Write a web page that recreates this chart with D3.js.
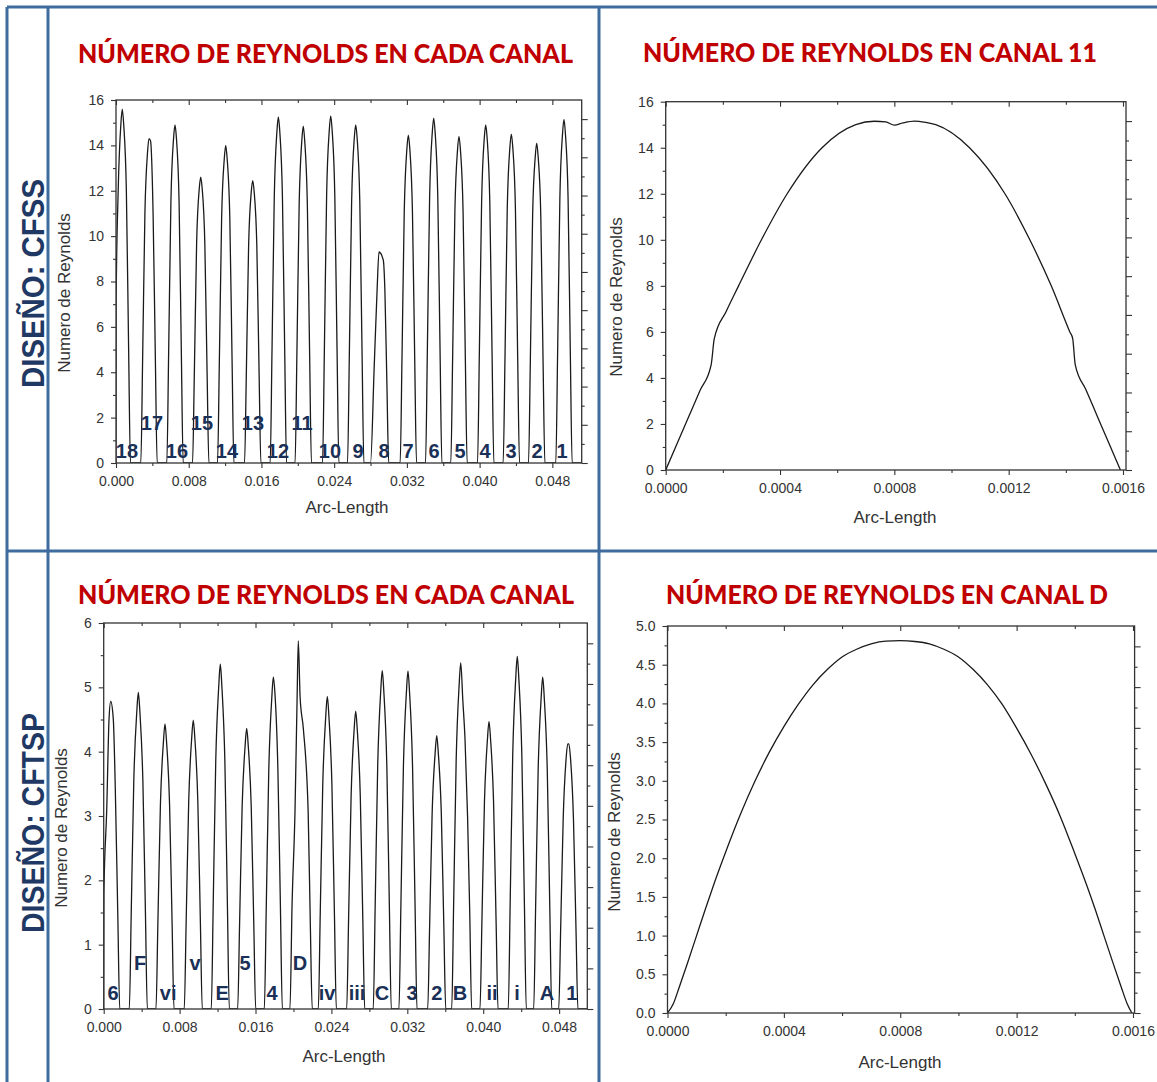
<!DOCTYPE html>
<html>
<head>
<meta charset="utf-8">
<style>
  body{
    margin: 0;
    background: #fff;
  }
  svg { display: block; }
</style>
</head>
<body>
<svg id='svgVis'></svg>

<script src="https://cdnjs.cloudflare.com/ajax/libs/d3/7.8.5/d3.min.js"></script>
<script>

// ---- data ----

// CFSS: Reynolds number along the arc crossing the 18 channels
var cfssProfile = [
  [0,0],[0.00001,7.0],[0.00024,12.0],[0.00053,14.9],[0.00069,15.6],[0.00085,14.9],[0.00114,12.0],[0.00139,5.0],[0.00159,0],
  [0.00273,0],[0.00293,4.6],[0.00318,11.0],[0.00347,13.7],[0.00363,14.3],[0.0038,14.2],[0.00408,11.0],[0.00433,4.6],[0.00453,0],
  [0.00559,0],[0.00579,4.8],[0.00604,11.5],[0.00633,14.3],[0.00649,14.9],[0.00665,14.3],[0.00694,11.5],[0.00719,4.8],[0.00739,0],
  [0.00842,0],[0.00862,4.0],[0.00887,9.7],[0.00916,12.1],[0.00932,12.6],[0.00948,12.1],[0.00977,9.7],[0.01002,4.0],[0.01022,0],
  [0.01117,0],[0.01137,4.5],[0.01162,10.8],[0.01191,13.4],[0.01207,14.0],[0.01223,13.4],[0.01252,10.8],[0.01277,4.5],[0.01297,0],
  [0.01414,0],[0.01434,4.0],[0.01459,9.6],[0.01488,11.95],[0.01504,12.45],[0.0152,11.95],[0.01549,9.6],[0.01574,4.0],[0.01594,0],
  [0.01696,0],[0.01716,4.9],[0.01741,11.7],[0.0177,14.6],[0.01786,15.25],[0.01802,14.6],[0.01831,11.7],[0.01856,4.9],[0.01876,0],
  [0.0197,0],[0.0199,4.8],[0.02015,11.4],[0.02044,14.2],[0.0206,14.85],[0.02076,14.2],[0.02105,11.4],[0.0213,4.8],[0.0215,0],
  [0.02272,0],[0.02292,4.9],[0.02317,11.8],[0.02346,14.65],[0.02362,15.3],[0.02378,14.65],[0.02407,11.8],[0.02432,4.9],[0.02452,0],
  [0.02547,0],[0.02567,4.8],[0.02592,11.5],[0.02621,14.3],[0.02637,14.9],[0.02653,14.3],[0.02682,11.5],[0.02707,4.8],[0.02727,0],
  [0.0280,0],[0.0284,4.2],[0.02872,7.6],[0.02893,9.3],[0.0294,8.95],[0.02958,7.6],[0.0298,3.5],[0.0300,0],
  [0.03126,0],[0.03146,4.6],[0.03171,11.1],[0.032,13.85],[0.03216,14.45],[0.03232,13.85],[0.03261,11.1],[0.03286,4.6],[0.03306,0],
  [0.03405,0],[0.03425,4.9],[0.0345,11.7],[0.03479,14.55],[0.03495,15.2],[0.03511,14.55],[0.0354,11.7],[0.03565,4.9],[0.03585,0],
  [0.03683,0],[0.03703,4.6],[0.03728,11.1],[0.03757,13.8],[0.03773,14.4],[0.03789,13.8],[0.03818,11.1],[0.03843,4.6],[0.03863,0],
  [0.03977,0],[0.03997,4.8],[0.04022,11.5],[0.04051,14.3],[0.04067,14.9],[0.04083,14.3],[0.04112,11.5],[0.04137,4.8],[0.04157,0],
  [0.04259,0],[0.04279,4.6],[0.04304,11.2],[0.04333,13.9],[0.04349,14.5],[0.04365,13.9],[0.04394,11.2],[0.04419,4.6],[0.04439,0],
  [0.04538,0],[0.04558,4.5],[0.04583,10.9],[0.04612,13.5],[0.04628,14.1],[0.04644,13.5],[0.04673,10.9],[0.04698,4.5],[0.04718,0],
  [0.04838,0],[0.04858,4.8],[0.04883,11.7],[0.04912,14.5],[0.04928,15.15],[0.04944,14.5],[0.04973,11.7],[0.04998,4.8],[0.05018,0],
  [0.0512,0]
];
var cfssLabels = ['18','17','16','15','14','13','12','11','10','9','8','7','6','5','4','3','2','1'];
var cfssLabelX = [0.00121,0.00396,0.00671,0.00946,0.01221,0.01507,0.01782,0.02046,0.02354,0.02662,0.02948,0.03212,0.03498,0.03784,0.04059,0.04345,0.04631,0.04906];
var cfssLabelY = [0.22,1.45,0.22,1.45,0.22,1.45,0.22,1.45,0.22,0.22,0.22,0.22,0.22,0.22,0.22,0.22,0.22,0.22];

// CFSS canal 11
var canal11Profile = [
  [0,0],[0.00004,1.15],[0.00008,2.3],[0.00012,3.45],[0.000159,4.57],[0.00017,5.71],[0.000212,6.9],[0.000255,8],
  [0.000335,10],[0.000425,12],[0.000547,14],[0.000665,15],[0.00073,15.15],[0.00077,15.12],[0.0008,14.98],
  [0.00083,15.08],[0.00087,15.16],[0.00091,15.1],[0.000945,15],[0.001063,14],[0.001187,12],[0.001274,10],
  [0.001349,8],[0.001414,6],[0.001424,5.71],[0.001433,4.57],[0.00147,3.5],[0.00151,2.34],[0.00155,1.18],[0.001591,0]
];

// CFTSP: Reynolds number along the arc
var cftspProfile = [
  [0,0],[0.00002,1.8],[0.00032,3.1],[0.00056,4.5],[0.00074,4.78],[0.00101,4.51],[0.00122,3.44],[0.00149,1.43],[0.00169,0],
  [0.0027,0],[0.0029,1.48],[0.00317,3.54],[0.00348,4.6],[0.00365,4.92],[0.00382,4.6],[0.00413,3.54],[0.0044,1.48],[0.0046,0],
  [0.00551,0],[0.00571,1.33],[0.00598,3.19],[0.00629,4.14],[0.00646,4.43],[0.00663,4.14],[0.00694,3.19],[0.00721,1.33],[0.00741,0],
  [0.00849,0],[0.00869,1.35],[0.00896,3.23],[0.00927,4.2],[0.00944,4.49],[0.00961,4.2],[0.00992,3.23],[0.01019,1.35],[0.01039,0],
  [0.01134,0],[0.01154,1.61],[0.01181,3.86],[0.01212,5.0],[0.01229,5.36],[0.01246,5.0],[0.01277,3.86],[0.01304,1.61],[0.01324,0],
  [0.01412,0],[0.01432,1.31],[0.01459,3.14],[0.0149,4.08],[0.01507,4.36],[0.01524,4.08],[0.01555,3.14],[0.01582,1.31],[0.01602,0],
  [0.01693,0],[0.01713,1.55],[0.0174,3.72],[0.01771,4.82],[0.01788,5.16],[0.01805,4.9],[0.01836,3.72],[0.01863,1.55],[0.01883,0],
  [0.01963,0],[0.01985,1.6],[0.02016,3.06],[0.02038,4.8],[0.02051,5.72],[0.0207,4.85],[0.02104,4.36],[0.02155,3.06],[0.02178,1.3],[0.02198,0],
  [0.02262,0],[0.02282,1.46],[0.02309,3.5],[0.0234,4.54],[0.02357,4.86],[0.02374,4.54],[0.02405,3.5],[0.02432,1.46],[0.02452,0],
  [0.02561,0],[0.02581,1.39],[0.02608,3.33],[0.02639,4.33],[0.02656,4.63],[0.02673,4.33],[0.02704,3.33],[0.02731,1.39],[0.02751,0],
  [0.02841,0],[0.02861,1.58],[0.02888,3.79],[0.02919,4.92],[0.02936,5.26],[0.02953,4.92],[0.02984,3.79],[0.03011,1.58],[0.03031,0],
  [0.03112,0],[0.03132,1.58],[0.03159,3.78],[0.0319,4.91],[0.03207,5.25],[0.03224,4.91],[0.03255,3.78],[0.03282,1.58],[0.03302,0],
  [0.03415,0],[0.03435,1.28],[0.03462,3.06],[0.03493,3.97],[0.0351,4.25],[0.03527,3.97],[0.03558,3.06],[0.03585,1.28],[0.03605,0],
  [0.03668,0],[0.03688,1.61],[0.03715,3.87],[0.03746,5.03],[0.03763,5.38],[0.03785,4.8],[0.03808,4.2],[0.03835,3.0],[0.03858,1.5],[0.03878,0],
  [0.03966,0],[0.03986,1.34],[0.04013,3.22],[0.04044,4.18],[0.04061,4.47],[0.04078,4.18],[0.04109,3.22],[0.04136,1.34],[0.04156,0],
  [0.04264,0],[0.04284,1.64],[0.04311,3.95],[0.04342,5.12],[0.04359,5.48],[0.04376,5.12],[0.04407,3.95],[0.04434,1.64],[0.04454,0],
  [0.04532,0],[0.04552,1.55],[0.04579,3.72],[0.0461,4.82],[0.04627,5.16],[0.04644,4.82],[0.04675,3.72],[0.04702,1.55],[0.04722,0],
  [0.04796,0],[0.04816,1.23],[0.04843,2.96],[0.04873,3.88],[0.04891,4.12],[0.04903,4.12],[0.04921,3.88],[0.04951,2.96],[0.04978,1.23],[0.04998,0],
  [0.051,0]
];
var cftspLabels = ['6','F','vi','v','E','5','4','D','iv','iii','C','3','2','B','ii','i','A','1'];
var cftspLabelX = [0.00098,0.00383,0.0068,0.00964,0.01248,0.01489,0.01774,0.02069,0.02354,0.0267,0.02933,0.03249,0.03512,0.03755,0.04092,0.04356,0.04672,0.04935];
var cftspLabelY = [0.14,0.61,0.14,0.61,0.14,0.61,0.14,0.61,0.14,0.14,0.14,0.14,0.14,0.14,0.14,0.14,0.14,0.14];

// CFTSP canal D
var canalDProfile = [
  [0,0],[0.00002,0.12],[0.00004,0.33],[0.00007,0.66],[0.0001,1.0],[0.00013,1.34],[0.00016,1.67],[0.0002,2.08],
  [0.00025,2.56],[0.0003,2.99],[0.00035,3.37],[0.0004,3.7],[0.00045,3.99],[0.0005,4.24],[0.00055,4.44],[0.0006,4.6],
  [0.00065,4.7],[0.0007,4.77],[0.00075,4.805],[0.0008,4.81],[0.00085,4.8],[0.0009,4.77],[0.00095,4.7],[0.001,4.6],
  [0.00105,4.44],[0.0011,4.24],[0.00115,3.99],[0.0012,3.68],[0.00125,3.34],[0.0013,2.96],[0.00135,2.54],[0.0014,2.06],
  [0.00144,1.66],[0.00147,1.34],[0.0015,1.0],[0.00153,0.66],[0.00156,0.33],[0.00158,0.12],[0.001596,0]
];

// ticks
var wideXMajor = [0, 0.008, 0.016, 0.024, 0.032, 0.040, 0.048];
var wideXMinor = [0.004, 0.012, 0.020, 0.028, 0.036, 0.044];
var chanXMajor = [0, 0.0004, 0.0008, 0.0012, 0.0016];
var chanXMinor = [0.0002, 0.0006, 0.0010, 0.0014];
var re16Major = [0, 2, 4, 6, 8, 10, 12, 14, 16];
var re16Minor = [1, 3, 5, 7, 9, 11, 13, 15];
var re6Major = [0, 1, 2, 3, 4, 5, 6];
var re6Minor = [0.5, 1.5, 2.5, 3.5, 4.5, 5.5];
var re5Major = [0, 0.5, 1, 1.5, 2, 2.5, 3, 3.5, 4, 4.5, 5];
var re5Minor = [0.25, 0.75, 1.25, 1.75, 2.25, 2.75, 3.25, 3.75, 4.25, 4.75];
var rightMajor = [0, 2, 4, 6, 8, 10, 12, 14, 16, 18];
var rightMinor = [1, 3, 5, 7, 9, 11, 13, 15, 17];

// ---- layout ----

var W = 1157, H = 1082;
var blue = '#3f6c9f';
var axisFont = "'Liberation Sans', Arial, sans-serif";

var svg = d3.select('#svgVis')
    .attr('width', W)
    .attr('height', H);

svg.append('rect').attr('width', W).attr('height', H).attr('fill', '#fff');

var panels = [
  { id: 'tl', title: 'NÚMERO DE REYNOLDS EN CADA CANAL', titleX: 78, titleY: 62.5, titleLen: 495,
    left: 116, right: 581.7, top: 100, bottom: 463, xMax: 0.05123, yMax: 16,
    xMajor: wideXMajor, xMinor: wideXMinor, yMajor: re16Major, yMinor: re16Minor,
    xFmt: '.3f', yFmt: 'd', data: cfssProfile,
    labels: cfssLabels, labelX: cfssLabelX, labelY: cfssLabelY,
    yLabel: [70, 293], xLabel: [347, 513] },
  { id: 'tr', title: 'NÚMERO DE REYNOLDS EN CANAL 11', titleX: 643, titleY: 62, titleLen: 454,
    left: 665.7, right: 1126, top: 101.7, bottom: 470, xMax: 0.0016105, yMax: 16,
    xMajor: chanXMajor, xMinor: chanXMinor, yMajor: re16Major, yMinor: re16Minor,
    xFmt: '.4f', yFmt: 'd', data: canal11Profile,
    yLabel: [622, 297], xLabel: [895, 523] },
  { id: 'bl', title: 'NÚMERO DE REYNOLDS EN CADA CANAL', titleX: 78, titleY: 604, titleLen: 496,
    left: 103.7, right: 587.3, top: 623, bottom: 1009, xMax: 0.05097, yMax: 6,
    xMajor: wideXMajor, xMinor: wideXMinor, yMajor: re6Major, yMinor: re6Minor,
    xFmt: '.3f', yFmt: 'd', data: cftspProfile,
    labels: cftspLabels, labelX: cftspLabelX, labelY: cftspLabelY,
    yLabel: [67, 828], xLabel: [344, 1062] },
  { id: 'br', title: 'NÚMERO DE REYNOLDS EN CANAL D', titleX: 666, titleY: 604, titleLen: 442,
    left: 667.5, right: 1134.6, top: 626, bottom: 1013, xMax: 0.0016055, yMax: 5,
    xMajor: chanXMajor, xMinor: chanXMinor, yMajor: re5Major, yMinor: re5Minor,
    xFmt: '.4f', yFmt: '.1f', data: canalDProfile,
    yLabel: [620, 832], xLabel: [900, 1068] }
];

// blue frame of the slide
var frame = svg.append('g').attr('stroke', blue).attr('stroke-width', 3);
frame.append('line').attr('x1', 7).attr('y1', 7).attr('x2', W).attr('y2', 7);
frame.append('line').attr('x1', 7).attr('y1', 7).attr('x2', 7).attr('y2', H);
frame.append('line').attr('x1', 48).attr('y1', 7).attr('x2', 48).attr('y2', H);
frame.append('line').attr('x1', 599).attr('y1', 7).attr('x2', 599).attr('y2', H);
frame.append('line').attr('x1', 7).attr('y1', 551).attr('x2', W).attr('y2', 551);

// side labels
function sideLabel(txt, cx, cy, len) {
  svg.append('text')
    .attr('transform', 'translate(' + cx + ',' + cy + ') rotate(-90)')
    .attr('text-anchor', 'middle')
    .attr('font-family', axisFont)
    .attr('font-weight', 'bold')
    .attr('font-size', 31)
    .attr('textLength', len)
    .attr('lengthAdjust', 'spacingAndGlyphs')
    .attr('fill', '#1f3864')
    .text(txt);
}
sideLabel('DISEÑO: CFSS', 44, 283.5, 209);
sideLabel('DISEÑO: CFTSP', 44, 823, 220);

function styleAxis(sel) {
  sel.select('.domain').remove();
  sel.attr('font-family', axisFont).attr('font-size', 14).attr('color', '#333');
  sel.selectAll('line').attr('stroke', '#333').attr('stroke-width', 1.1);
}

function drawPanel(p) {

  var x = d3.scaleLinear().domain([0, p.xMax]).range([p.left, p.right]);
  var y = d3.scaleLinear().domain([0, p.yMax]).range([p.bottom, p.top]);
  var yR = d3.scaleLinear().domain([0, 19]).range([p.bottom, p.top]);

  var g = svg.append('g');

  // title
  g.append('text')
    .attr('x', p.titleX)
    .attr('y', p.titleY)
    .attr('font-family', 'Lato, "Open Sans", sans-serif')
    .attr('font-weight', 900)
    .attr('font-size', 26)
    .attr('textLength', p.titleLen)
    .attr('lengthAdjust', 'spacingAndGlyphs')
    .attr('fill', '#c00000')
    .text(p.title);

  svg.append('clipPath').attr('id', 'clip-' + p.id)
    .append('rect')
    .attr('x', p.left).attr('y', p.top)
    .attr('width', p.right - p.left).attr('height', p.bottom - p.top);

  var line = d3.line()
    .x(function(d) { return x(d[0]); })
    .y(function(d) { return y(d[1]); })
    .curve(d3.curveMonotoneX);

  g.append('path')
    .datum(p.data)
    .attr('clip-path', 'url(#clip-' + p.id + ')')
    .attr('fill', 'none')
    .attr('stroke', '#1a1a1a')
    .attr('stroke-width', 1.3)
    .attr('stroke-linejoin', 'round')
    .attr('d', line);

  // bottom axis, outward ticks
  g.append('g').attr('transform', 'translate(0,' + p.bottom + ')')
    .call(d3.axisBottom(x).tickValues(p.xMajor).tickSize(5).tickPadding(8).tickFormat(d3.format(p.xFmt)))
    .call(styleAxis);
  g.append('g').attr('transform', 'translate(0,' + p.bottom + ')')
    .call(d3.axisBottom(x).tickValues(p.xMinor).tickSize(3).tickFormat(''))
    .call(styleAxis);

  // top axis, inward ticks
  g.append('g').attr('transform', 'translate(0,' + p.top + ')')
    .call(d3.axisBottom(x).tickValues(p.xMajor).tickSize(5).tickFormat(''))
    .call(styleAxis);
  g.append('g').attr('transform', 'translate(0,' + p.top + ')')
    .call(d3.axisBottom(x).tickValues(p.xMinor).tickSize(3).tickFormat(''))
    .call(styleAxis);

  // left axis
  g.append('g').attr('transform', 'translate(' + p.left + ',0)')
    .call(d3.axisLeft(y).tickValues(p.yMajor).tickSize(5).tickPadding(7).tickFormat(d3.format(p.yFmt)))
    .call(styleAxis);
  g.append('g').attr('transform', 'translate(' + p.left + ',0)')
    .call(d3.axisLeft(y).tickValues(p.yMinor).tickSize(3).tickFormat(''))
    .call(styleAxis);

  // right axis, unlabelled, outward ticks
  g.append('g').attr('transform', 'translate(' + p.right + ',0)')
    .call(d3.axisRight(yR).tickValues(rightMajor).tickSize(6).tickFormat(''))
    .call(styleAxis);
  g.append('g').attr('transform', 'translate(' + p.right + ',0)')
    .call(d3.axisRight(yR).tickValues(rightMinor).tickSize(3).tickFormat(''))
    .call(styleAxis);

  // plot frame
  g.append('rect')
    .attr('x', p.left).attr('y', p.top)
    .attr('width', p.right - p.left).attr('height', p.bottom - p.top)
    .attr('fill', 'none')
    .attr('stroke', '#333')
    .attr('stroke-width', 1.3);

  // axis titles
  g.append('text')
    .attr('x', p.xLabel[0]).attr('y', p.xLabel[1])
    .attr('text-anchor', 'middle')
    .attr('font-family', axisFont)
    .attr('font-size', 17)
    .attr('fill', '#333')
    .text('Arc-Length');

  g.append('text')
    .attr('transform', 'translate(' + p.yLabel[0] + ',' + p.yLabel[1] + ') rotate(-90)')
    .attr('text-anchor', 'middle')
    .attr('font-family', axisFont)
    .attr('font-size', 17)
    .attr('fill', '#333')
    .text('Numero de Reynolds');

  // channel names
  if (p.labels) {
    g.selectAll('text.chan')
      .data(p.labels)
      .enter()
      .append('text')
      .attr('class', 'chan')
      .attr('x', function(d, i) { return x(p.labelX[i]); })
      .attr('y', function(d, i) { return y(p.labelY[i]); })
      .attr('text-anchor', 'middle')
      .attr('font-family', axisFont)
      .attr('font-weight', 'bold')
      .attr('font-size', 20)
      .attr('fill', '#1a3057')
      .text(function(d) { return d; });
  }
}

panels.forEach(drawPanel);

</script>
</body>
</html>
